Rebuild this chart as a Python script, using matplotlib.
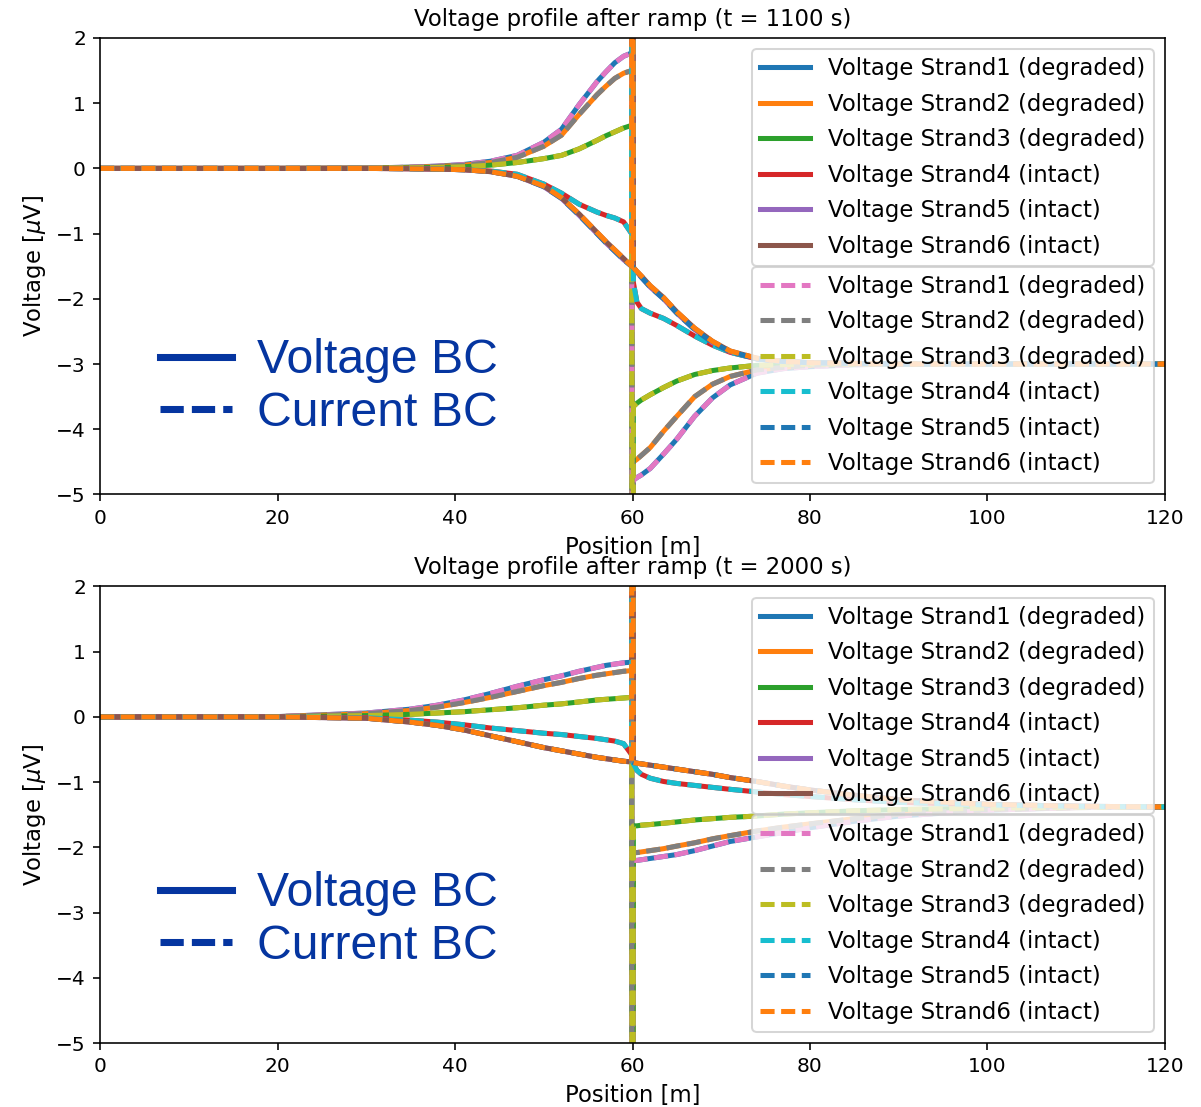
import matplotlib
matplotlib.use("Agg")
import matplotlib.pyplot as plt
from matplotlib.lines import Line2D

# positions along the cable [m]
pos = [0, 20, 30, 35, 38, 41, 44, 47, 50, 52, 54, 56, 57, 58, 59, 59.9, 60,
       60.1, 60.5, 61, 62, 63.5, 65, 67, 69, 71, 74, 77, 80, 85, 90, 100, 110, 120]

labels = ["Voltage Strand1 (degraded)", "Voltage Strand2 (degraded)",
          "Voltage Strand3 (degraded)", "Voltage Strand4 (intact)",
          "Voltage Strand5 (intact)", "Voltage Strand6 (intact)"]

# t = 1100 s, voltage in uV
s1_1100 = [0, 0, 0.005, 0.02, 0.035, 0.06, 0.11, 0.2, 0.4, 0.6, 0.98, 1.33, 1.48, 1.62, 1.72, 1.77, -12,
           -4.78, -4.74, -4.7, -4.6, -4.38, -4.15, -3.8, -3.52, -3.32, -3.14, -3.07, -3.04, -3.01, -3.0, -3.0, -3.0, -3.0]
s2_1100 = [0, 0, 0.004, 0.017, 0.03, 0.05, 0.09, 0.17, 0.34, 0.51, 0.83, 1.13, 1.26, 1.38, 1.46, 1.5, -12,
           -4.5, -4.46, -4.4, -4.28, -4.03, -3.8, -3.5, -3.31, -3.19, -3.09, -3.05, -3.02, -3.0, -3.0, -3.0, -3.0, -3.0]
s3_1100 = [0, 0, 0.002, 0.008, 0.015, 0.025, 0.05, 0.09, 0.15, 0.2, 0.3, 0.43, 0.5, 0.56, 0.62, 0.66, -12,
           -3.65, -3.6, -3.55, -3.47, -3.36, -3.26, -3.16, -3.1, -3.06, -3.02, -3.01, -3.0, -3.0, -3.0, -3.0, -3.0, -3.0]
s4_1100 = [0, 0, 0, -0.005, -0.01, -0.02, -0.04, -0.09, -0.24, -0.38, -0.55, -0.67, -0.72, -0.76, -0.82, -1.0, 12,
           -1.75, -2.05, -2.15, -2.22, -2.3, -2.41, -2.57, -2.71, -2.82, -2.92, -2.96, -2.98, -2.99, -3.0, -3.0, -3.0, -3.0]
s5_1100 = [0, 0, 0, -0.005, -0.01, -0.02, -0.05, -0.12, -0.28, -0.46, -0.72, -1.0, -1.14, -1.27, -1.4, -1.5, -1.5,
           -1.52, -1.59, -1.67, -1.82, -2.0, -2.22, -2.47, -2.67, -2.81, -2.92, -2.96, -2.98, -2.99, -3.0, -3.0, -3.0, -3.0]
s6_1100 = [0, 0, 0, -0.005, -0.01, -0.02, -0.05, -0.12, -0.27, -0.45, -0.7, -0.98, -1.12, -1.25, -1.38, -1.5, 12,
           -1.52, -1.58, -1.65, -1.8, -1.98, -2.2, -2.45, -2.65, -2.8, -2.91, -2.96, -2.98, -2.99, -3.0, -3.0, -3.0, -3.0]

# t = 2000 s
s1_2000 = [0, 0.005, 0.06, 0.12, 0.18, 0.26, 0.36, 0.47, 0.57, 0.63, 0.7, 0.76, 0.79, 0.81, 0.83, 0.84, -12,
           -2.2, -2.2, -2.19, -2.17, -2.14, -2.11, -2.05, -1.98, -1.91, -1.84, -1.77, -1.7, -1.6, -1.52, -1.43, -1.39, -1.38]
s2_2000 = [0, 0.004, 0.05, 0.1, 0.15, 0.22, 0.3, 0.39, 0.48, 0.53, 0.59, 0.64, 0.66, 0.68, 0.7, 0.71, -12,
           -2.08, -2.08, -2.07, -2.05, -2.02, -1.98, -1.93, -1.87, -1.82, -1.75, -1.69, -1.64, -1.56, -1.49, -1.42, -1.39, -1.38]
s3_2000 = [0, 0.002, 0.02, 0.04, 0.06, 0.08, 0.11, 0.14, 0.18, 0.2, 0.23, 0.26, 0.27, 0.28, 0.29, 0.3, -12,
           -1.67, -1.67, -1.66, -1.65, -1.63, -1.61, -1.58, -1.56, -1.54, -1.52, -1.49, -1.47, -1.44, -1.42, -1.4, -1.385, -1.38]
s4_2000 = [0, 0, -0.01, -0.05, -0.08, -0.12, -0.17, -0.21, -0.25, -0.27, -0.3, -0.33, -0.35, -0.37, -0.41, -0.58, 12,
           -0.72, -0.82, -0.88, -0.94, -0.99, -1.02, -1.05, -1.08, -1.11, -1.15, -1.19, -1.22, -1.27, -1.31, -1.35, -1.37, -1.38]
s5_2000 = [0, 0, -0.02, -0.08, -0.13, -0.2, -0.29, -0.38, -0.47, -0.52, -0.57, -0.62, -0.64, -0.66, -0.68, -0.69, -0.69,
           -0.7, -0.71, -0.72, -0.74, -0.77, -0.8, -0.84, -0.88, -0.93, -0.99, -1.06, -1.12, -1.2, -1.27, -1.34, -1.37, -1.38]
s6_2000 = [0, 0, -0.02, -0.08, -0.13, -0.2, -0.29, -0.38, -0.47, -0.52, -0.57, -0.62, -0.64, -0.66, -0.68, -0.69, 12,
           -0.7, -0.71, -0.72, -0.74, -0.77, -0.8, -0.84, -0.88, -0.93, -0.99, -1.06, -1.12, -1.2, -1.27, -1.34, -1.37, -1.38]

times = [1100, 2000]
strands = {1100: [s1_1100, s2_1100, s3_1100, s4_1100, s5_1100, s6_1100],
           2000: [s1_2000, s2_2000, s3_2000, s4_2000, s5_2000, s6_2000]}

bc_color = "#0535a0"
bc_top = {1100: 0.342, 2000: 0.376}
fs = 11.3

fig, axes = plt.subplots(2, 1, figsize=(1201 / 145, 1107 / 145), dpi=145)
fig.subplots_adjust(left=0.0833, right=0.970, bottom=0.0578, top=0.9657, hspace=0.2015)

for ax, t in zip(axes, times):
    solid, dashed = [], []
    for i, (v, lab) in enumerate(zip(strands[t], labels)):
        solid.append(ax.plot(pos, v, color=f"C{i}", lw=2.5, label=lab)[0])
    for i, (v, lab) in enumerate(zip(strands[t], labels)):
        dashed.append(ax.plot(pos, v, color=f"C{(i + 6) % 10}", lw=2.5, ls="--",
                              dashes=(2.8, 1.3), label=lab)[0])

    ax.set_xlim(0, 120)
    ax.set_ylim(-5, 2)
    ax.set_title(f"Voltage profile after ramp (t = {t} s)", fontsize=fs)
    ax.set_xlabel("Position [m]", fontsize=fs)
    ax.set_ylabel(r"Voltage [$\mu$V]", fontsize=fs)

    leg1 = ax.legend(handles=solid, loc="upper right", handlelength=2.2,
                     fontsize=fs, labelspacing=0.55, borderpad=0.35)
    ax.add_artist(leg1)
    leg2 = ax.legend(handles=dashed, loc="lower right", handlelength=2.2,
                     fontsize=fs, labelspacing=0.55, borderpad=0.35)
    ax.add_artist(leg2)

    bc_handles = [Line2D([], [], color=bc_color, lw=3.5),
                  Line2D([], [], color=bc_color, lw=3.5, ls="--", dashes=(3.3, 1.15))]
    ax.legend(handles=bc_handles, labels=["Voltage BC", "Current BC"],
              loc="upper left", bbox_to_anchor=(0.056, bc_top[t]), borderaxespad=0,
              borderpad=0, frameon=False, handlelength=1.5, handletextpad=0.52,
              labelspacing=0.15, labelcolor=bc_color,
              prop={"family": "Liberation Sans", "size": 23.9})

fig.savefig("out.png", dpi=145)
